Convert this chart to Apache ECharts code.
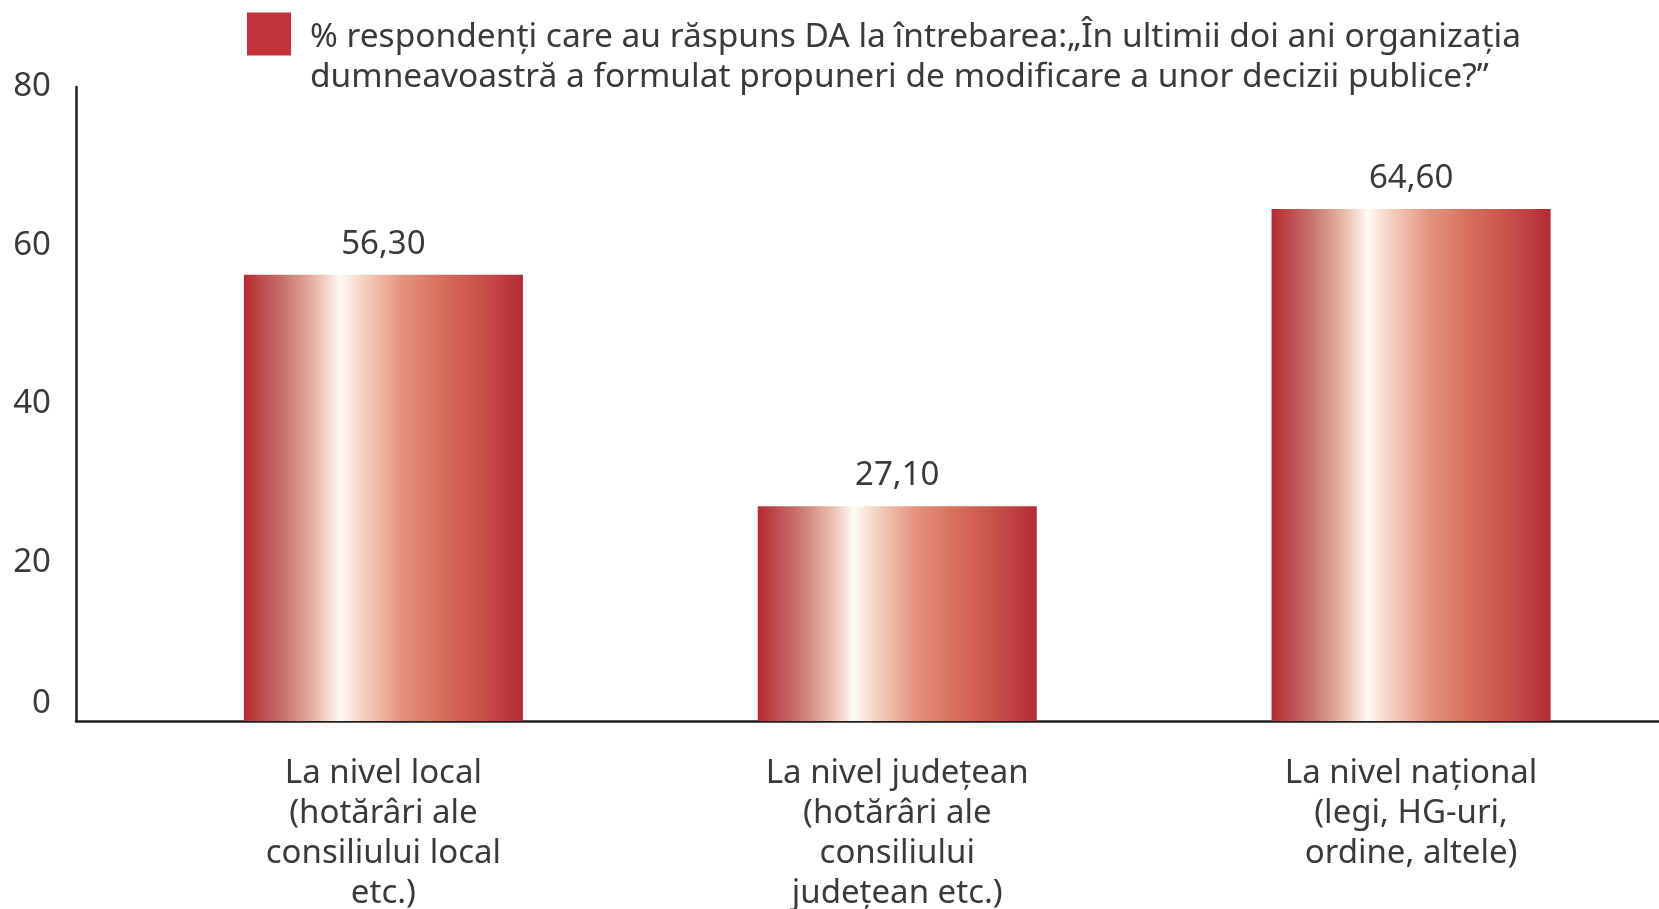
<!DOCTYPE html>
<html lang="ro">
<head>
    <meta charset="UTF-8">
    <title>Propuneri de modificare</title>
    <script src="https://cdn.jsdelivr.net/npm/echarts@6.0.0/dist/echarts.min.js"></script>
    <style>
        html, body { margin: 0; padding: 0; background: #fff; }
        #chart { width: 1659px; height: 909px; }
    </style>
</head>
<body>
<div id="chart"></div>
<script>
    // date
    var categories = [
        'La nivel local\n(hotărâri ale\nconsiliului local\netc.)',
        'La nivel județean\n(hotărâri ale\nconsiliului\njudețean etc.)',
        'La nivel național\n(legi, HG-uri,\nordine, altele)'
    ];
    var values = [56.3, 27.1, 64.6];
    var yTicks = [0, 20, 40, 60, 80];
    var seriesName = '% respondenți care au răspuns DA la întrebarea:„În ultimii doi ani organizația\ndumneavoastră a formulat propuneri de modificare a unor decizii publice?”';

    var textColor = '#3a3a3a';
    var fontFamily = '"Noto Sans", sans-serif';

    // gradient orizontal pe bare
    var barGradient = new echarts.graphic.LinearGradient(0, 0, 1, 0, [
        {offset: 0, color: '#b52a33'},
        {offset: 0.14, color: '#c8716a'},
        {offset: 0.26, color: '#e7baa9'},
        {offset: 0.345, color: '#fffaf6'},
        {offset: 0.43, color: '#f4cfbe'},
        {offset: 0.57, color: '#e3927a'},
        {offset: 0.73, color: '#d46a58'},
        {offset: 0.88, color: '#c44b45'},
        {offset: 1, color: '#b22a33'}
    ]);

    var chart = echarts.init(document.getElementById('chart'));
    var option = {
        backgroundColor: '#fff',
        animation: false,
        textStyle: {fontFamily: fontFamily},
        legend: {
            left: 247,
            top: -29,
            padding: 0,
            itemWidth: 44,
            itemHeight: 43,
            icon: 'rect',
            data: [{name: seriesName, itemStyle: {color: '#c1323b'}}],
            // rand gol in fata ca textul sa inceapa la nivelul patratului
            formatter: function (name) {
                return '{g| }\n' + name.split('\n').map(function (s) {
                    return '{t|' + s + '}';
                }).join('\n');
            },
            textStyle: {
                color: textColor,
                fontSize: 33.5,
                lineHeight: 40,
                fontFamily: fontFamily,
                rich: {
                    g: {fontSize: 33, lineHeight: 46},
                    t: {
                        color: textColor,
                        fontSize: 33.5,
                        lineHeight: 40,
                        fontFamily: fontFamily,
                        padding: [0, 0, 0, 14]
                    }
                }
            }
        },
        grid: [
            // grila cu barele
            {left: 126.5, right: -9, top: 87, bottom: 188, outerBoundsMode: 'none'},
            // grila cu axele vizibile
            {left: 76, right: 0, top: 87, bottom: 188, outerBoundsMode: 'none'}
        ],
        xAxis: [
            {
                gridIndex: 0,
                type: 'category',
                data: categories,
                axisLine: {show: false},
                axisTick: {show: false},
                axisLabel: {
                    interval: 0,
                    margin: 33,
                    color: textColor,
                    fontSize: 33,
                    lineHeight: 40,
                    fontFamily: fontFamily
                }
            },
            {
                gridIndex: 1,
                type: 'value',
                min: 0,
                max: 1,
                axisLine: {show: true, lineStyle: {color: '#222', width: 2.5}},
                axisTick: {show: false},
                axisLabel: {show: false},
                splitLine: {show: false}
            }
        ],
        yAxis: [
            {
                gridIndex: 0,
                type: 'value',
                min: 0,
                max: 80,
                show: false
            },
            {
                gridIndex: 1,
                type: 'value',
                min: yTicks[0],
                max: yTicks[yTicks.length - 1],
                interval: 20,
                axisLine: {show: true, lineStyle: {color: '#222', width: 2.5}},
                axisTick: {show: false},
                splitLine: {show: false},
                axisLabel: {
                    margin: 25,
                    color: textColor,
                    fontSize: 33,
                    fontFamily: fontFamily,
                    formatter: function (v) {
                        return v === 0 ? '{z|0}' : String(v);
                    },
                    rich: {
                        z: {
                            fontSize: 33,
                            color: textColor,
                            fontFamily: fontFamily,
                            padding: [0, 0, 34, 0]
                        }
                    }
                }
            }
        ],
        series: [{
            name: seriesName,
            type: 'bar',
            xAxisIndex: 0,
            yAxisIndex: 0,
            data: values,
            barWidth: '54.3%',
            itemStyle: {color: barGradient},
            label: {
                show: true,
                position: 'top',
                distance: 14,
                color: textColor,
                fontSize: 33,
                fontFamily: fontFamily,
                formatter: function (p) {
                    return p.value.toFixed(2).replace('.', ',');
                }
            }
        }]
    };
    chart.setOption(option);
</script>
</body>
</html>
